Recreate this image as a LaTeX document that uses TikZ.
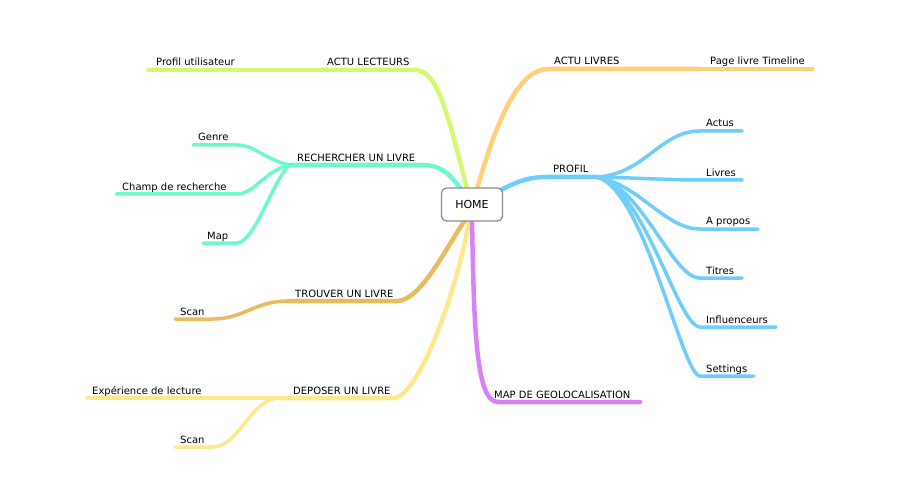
\documentclass[tikz,border=0pt]{standalone}
\usepackage{fontspec}
\setmainfont{DejaVu Sans}
\definecolor{cLect}{HTML}{D5F871}
\definecolor{cLiv}{HTML}{FFD077}
\definecolor{cProf}{HTML}{6FCDFB}
\definecolor{cRech}{HTML}{70F7D0}
\definecolor{cTrouv}{HTML}{E9BB5C}
\definecolor{cDep}{HTML}{FFE78E}
\definecolor{cMap}{HTML}{D683F7}
\definecolor{cBox}{HTML}{8A8A8A}
\pgfdeclarelayer{bg}
\pgfsetlayers{bg,main}
\begin{document}
\begin{tikzpicture}[x=1pt,y=-1pt,
  br/.style={line width=4.5pt, line cap=round},
  sub/.style={line width=3.5pt, line cap=round},
  lbl/.style={anchor=base west, inner sep=0pt, font=\fontsize{10}{12}\selectfont, text=black},
  homebox/.style={draw=cBox, fill=white, rounded corners=5pt, line width=1.2pt,
    minimum width=61pt, minimum height=33pt, inner sep=0pt, font=\fontsize{11}{13}\selectfont}]
\useasboundingbox (0,0) rectangle (900,500);

\node[homebox] (home) at (472,204.5) {HOME};

% anchor points on HOME
\coordinate (hLect) at (467,189);
\coordinate (hLiv) at (477,189);
\coordinate (hProf) at (501,190);
\coordinate (hRech) at (461,189);
\coordinate (hTrouv) at (465,220);
\coordinate (hDep) at (469,220);
\coordinate (hMap) at (472,220);

% branch points
\coordinate (lectK) at (415,70);
\coordinate (lectJ) at (322,70);
\coordinate (lectE) at (148,70);
\coordinate (livK) at (548,69);
\coordinate (livJ) at (700,69);
\coordinate (livE) at (813,69);
\coordinate (profK) at (548,177);
\coordinate (profJ) at (597,177);
\coordinate (actusK) at (700,131);  \coordinate (actusE) at (742,131);
\coordinate (livresK) at (700,180); \coordinate (livresE) at (742,180);
\coordinate (aproK) at (700,229);   \coordinate (aproE) at (758,229);
\coordinate (titK) at (700,278);    \coordinate (titE) at (742,278);
\coordinate (inflK) at (700,327);   \coordinate (inflE) at (776,327);
\coordinate (setK) at (700,376);    \coordinate (setE) at (754,376);
\coordinate (rechK) at (422,165);
\coordinate (rechJ) at (290,165);
\coordinate (genK) at (237,145);    \coordinate (genE) at (193,145);
\coordinate (chK) at (237,194);     \coordinate (chE) at (116,194);
\coordinate (mapK) at (237,243);    \coordinate (mapE) at (203,243);
\coordinate (trK) at (397,301);
\coordinate (trJ) at (288,301);
\coordinate (scK) at (213,319);     \coordinate (scE) at (175,319);
\coordinate (depK) at (393,398);
\coordinate (depJ) at (280,398);
\coordinate (expE) at (87,398);
\coordinate (sc2K) at (212,447);    \coordinate (sc2E) at (175,447);
\coordinate (geoK) at (498,402);
\coordinate (geoE) at (640,402);

\begin{pgfonlayer}{bg}
% ACTU LECTEURS
\draw[br,cLect] (hLect) .. controls (447,110) and (437,70) .. (lectK) -- (lectJ);
\draw[sub,cLect] (lectJ) -- (lectE);
% ACTU LIVRES
\draw[br,cLiv] (hLiv) .. controls (500,108) and (522,69) .. (livK) -- (livJ);
\draw[sub,cLiv] (livJ) -- (livE);
% PROFIL
\draw[br,cProf] (hProf) .. controls (520,180) and (530,177) .. (profK) -- (profJ);
\draw[sub,cProf] (profJ) .. controls (645,174) and (660,131) .. (actusK) -- (actusE);
\draw[sub,cProf] (profJ) .. controls (640,178) and (670,180) .. (livresK) -- (livresE);
\draw[sub,cProf] (profJ) .. controls (640,185) and (665,229) .. (aproK) -- (aproE);
\draw[sub,cProf] (profJ) .. controls (643,187) and (672,278) .. (titK) -- (titE);
\draw[sub,cProf] (profJ) .. controls (645,189) and (678,327) .. (inflK) -- (inflE);
\draw[sub,cProf] (profJ) .. controls (645,190) and (682,376) .. (setK) -- (setE);
% RECHERCHER
\draw[br,cRech] (hRech) .. controls (448,172) and (440,165) .. (rechK) -- (rechJ);
\draw[sub,cRech] (rechJ) .. controls (265,160) and (255,145) .. (genK) -- (genE);
\draw[sub,cRech] (rechJ) .. controls (265,170) and (255,194) .. (chK) -- (chE);
\draw[sub,cRech] (rechJ) .. controls (275,175) and (255,243) .. (mapK) -- (mapE);
% TROUVER
\draw[br,cTrouv] (hTrouv) .. controls (445,250) and (420,301) .. (trK) -- (trJ);
\draw[sub,cTrouv] (trJ) .. controls (255,301) and (243,319) .. (scK) -- (scE);
% DEPOSER
\draw[br,cDep] (hDep) .. controls (460,280) and (420,398) .. (depK) -- (depJ);
\draw[sub,cDep] (depJ) -- (expE);
\draw[sub,cDep] (depJ) .. controls (250,398) and (240,447) .. (sc2K) -- (sc2E);
% MAP
\draw[br,cMap] (hMap) .. controls (474,330) and (476,402) .. (geoK) -- (geoE);
\end{pgfonlayer}

% labels
\node[lbl] (tLect) at (327,66) {ACTU LECTEURS};
\node[lbl] (tProfU) at (156,66) {Profil utilisateur};
\node[lbl] (tLiv) at (554,65) {ACTU LIVRES};
\node[lbl] (tPage) at (710,65) {Page livre Timeline};
\node[lbl] (tProf) at (553,173) {PROFIL};
\node[lbl] (tActus) at (706,127) {Actus};
\node[lbl] (tLivres) at (706,176) {Livres};
\node[lbl] (tApro) at (706,225) {A propos};
\node[lbl] (tTit) at (706,274) {Titres};
\node[lbl] (tInfl) at (706,323) {Influenceurs};
\node[lbl] (tSet) at (706,372) {Settings};
\node[lbl] (tRech) at (297,161) {RECHERCHER UN LIVRE};
\node[lbl] (tGen) at (198,141) {Genre};
\node[lbl] (tCh) at (122,190) {Champ de recherche};
\node[lbl] (tMap) at (207,239) {Map};
\node[lbl] (tTrouv) at (295,297) {TROUVER UN LIVRE};
\node[lbl] (tSc) at (180,315) {Scan};
\node[lbl] (tDep) at (293,394) {DEPOSER UN LIVRE};
\node[lbl] (tExp) at (92,394) {Expérience de lecture};
\node[lbl] (tSc2) at (180,443) {Scan};
\node[lbl] (tGeo) at (494,398) {MAP DE GEOLOCALISATION};
\end{tikzpicture}
\end{document}
